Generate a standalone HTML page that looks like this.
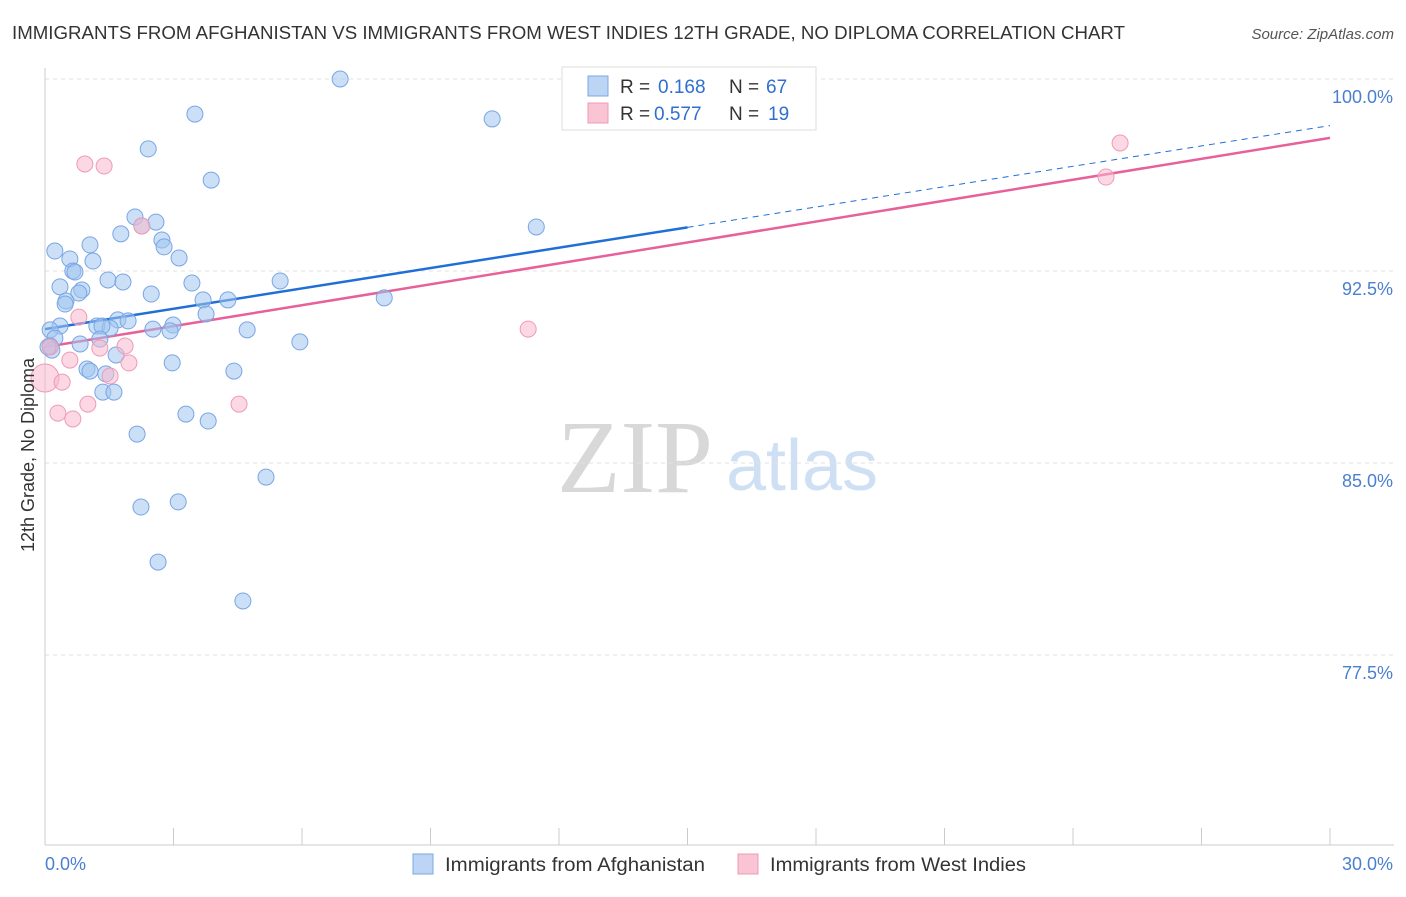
<!DOCTYPE html>
<html><head><meta charset="utf-8"><style>
body{margin:0;background:#fff;font-family:"Liberation Sans",sans-serif;}
</style></head><body>
<svg id="chart" width="1406" height="892" xmlns="http://www.w3.org/2000/svg" style="font-family:'Liberation Sans',sans-serif">
<text x="12" y="39" font-size="18" fill="#333" textLength="1113" lengthAdjust="spacingAndGlyphs">IMMIGRANTS FROM AFGHANISTAN VS IMMIGRANTS FROM WEST INDIES 12TH GRADE, NO DIPLOMA CORRELATION CHART</text>
<text x="1394" y="39" font-size="15" fill="#555" text-anchor="end" font-style="italic">Source: ZipAtlas.com</text>
<g>
<text x="635" y="492" font-size="104" fill="#d8d8d8" text-anchor="middle" font-family="Liberation Serif,serif">ZIP</text>
<text x="802" y="490" font-size="72" fill="#cfe0f4" text-anchor="middle">atlas</text>
</g>
<g id="grid"></g>
<g id="axes"></g>
<g id="lines"></g>
<g id="points"></g>
<text transform="translate(34,455) rotate(-90)" font-size="18" fill="#333" text-anchor="middle">12th Grade, No Diploma</text>
<g>
<rect x="562" y="67" width="254" height="63" fill="#fff" stroke="#ddd"/>
<rect x="588" y="76" width="20" height="20" fill="#bcd5f5" stroke="#7aa8e6"/>
<rect x="588" y="103" width="20" height="20" fill="#f9c4d4" stroke="#f09ab6"/>
<text x="620" y="93" font-size="19" fill="#333">R =</text>
<text x="658" y="93" font-size="19" fill="#2f6fd0">0.168</text>
<text x="729" y="93" font-size="19" fill="#333">N =</text>
<text x="766" y="93" font-size="19" fill="#2f6fd0">67</text>
<text x="620" y="120" font-size="19" fill="#333">R =</text>
<text x="654" y="120" font-size="19" fill="#2f6fd0">0.577</text>
<text x="729" y="120" font-size="19" fill="#333">N =</text>
<text x="768" y="120" font-size="19" fill="#2f6fd0">19</text>
</g>
<g>
<rect x="413" y="854" width="20" height="20" fill="#bcd5f5" stroke="#7aa8e6"/>
<text x="445" y="871" font-size="19" fill="#333" textLength="260" lengthAdjust="spacingAndGlyphs">Immigrants from Afghanistan</text>
<rect x="738" y="854" width="20" height="20" fill="#f9c4d4" stroke="#f09ab6"/>
<text x="770" y="871" font-size="19" fill="#333" textLength="256" lengthAdjust="spacingAndGlyphs">Immigrants from West Indies</text>
</g>
</svg>
<script>
const blueX=[6.89,3.50,10.44,2.41,3.88,2.10,2.59,2.26,1.77,11.47,2.73,2.78,0.23,1.05,1.12,3.13,0.58,0.65,0.70,1.47,1.82,5.49,3.43,0.35,0.86,0.79,0.49,0.47,2.48,3.69,4.27,7.92,3.76,1.70,1.94,0.35,1.21,1.52,1.33,2.52,2.99,2.92,4.72,0.12,0.23,0.82,1.28,5.95,0.12,0.16,1.66,2.97,0.98,1.05,1.42,4.41,1.35,1.61,3.29,3.81,2.15,5.16,3.11,2.24,2.64,4.62,0.07];
const blueY=[100,98.63,98.44,97.27,96.05,94.61,94.41,94.26,93.95,94.22,93.71,93.44,93.28,93.52,92.89,93.01,92.97,92.50,92.46,92.15,92.07,92.11,92.03,91.88,91.76,91.64,91.33,91.21,91.60,91.37,91.37,91.45,90.82,90.59,90.55,90.35,90.35,90.27,90.35,90.23,90.39,90.16,90.20,90.20,89.88,89.65,89.84,89.73,89.57,89.41,89.22,88.91,88.67,88.59,88.48,88.59,87.77,87.77,86.91,86.64,86.13,84.45,83.48,83.28,81.13,79.61,89.53];
const pinkX=[25.10,24.77,0.93,1.38,2.26,0.79,11.28,1.87,1.28,0.12,0.58,1.96,0,0.40,1.52,1.00,4.53,0.30,0.65];
const pinkY=[97.50,96.17,96.68,96.60,94.26,90.70,90.23,89.57,89.49,89.53,89.02,88.91,88.32,88.16,88.40,87.30,87.30,86.95,86.72];
const pinkR=[8,8,8,8,8,8,8,8,8,8,8,8,14,8,8,8,8,8,8];
const blueLine=[90.23,0.265];
const pinkLine=[89.53,0.2723];
const yTicks=[100,92.5,85,77.5];
const xTickLabels=["0.0%","30.0%"];
const NS="http://www.w3.org/2000/svg";
const X0=45,X1=1330,Y100=79,PPU=25.6,YB=845;
const sx=v=>X0+(v/30)*(X1-X0);
const sy=v=>Y100+(100-v)*PPU;
function mk(t,a,p){const e=document.createElementNS(NS,t);for(const k in a)e.setAttribute(k,a[k]);document.getElementById(p).appendChild(e);return e;}
yTicks.forEach(v=>{
 const l=mk('line',{x1:X0,x2:1394,y1:sy(v),y2:sy(v),stroke:'#e2e2e2','stroke-dasharray':'4,4'},'grid');
 
 
 const t=mk('text',{x:1393,y:sy(v)+24,'font-size':18,fill:'#4a7fd0','text-anchor':'end'},'axes');
 t.textContent=v.toFixed(1)+'%';
 
 
});
const ax=mk('line',{x1:X0,x2:X0,y1:68,y2:YB,stroke:'#ccc'},'axes');


const bx=mk('line',{x1:X0,x2:1394,y1:YB,y2:YB,stroke:'#ccc'},'axes');


for(let i=0;i<=10;i++){
 const t=mk('line',{x1:sx(i*3),x2:sx(i*3),y1:828,y2:YB,stroke:'#ccc'},'axes');
 
 
}
[[0,'start',xTickLabels[0]],[30,'end',xTickLabels[1]]].forEach(([v,a,s],i)=>{
 const t=mk('text',{x:i?1393:X0,y:870,'font-size':18,fill:'#4a7fd0','text-anchor':a},'axes');
 t.textContent=s;
 
 
});
blueX.forEach((x,i)=>{
 const c=mk('circle',{cx:sx(x),cy:sy(blueY[i]),r:8,fill:'rgba(160,196,240,0.55)',stroke:'#78a6e4','stroke-width':1},'points');
 
 
});
pinkX.forEach((x,i)=>{
 const c=mk('circle',{cx:sx(x),cy:sy(pinkY[i]),r:pinkR[i],fill:'rgba(248,184,204,0.55)',stroke:'#f09ab6','stroke-width':1},'points');
 
 
});
const f=(L,x)=>L[0]+L[1]*x;
let l1=mk('line',{x1:sx(0),y1:sy(f(blueLine,0)),x2:sx(15),y2:sy(f(blueLine,15)),stroke:'#1f6fd6','stroke-width':2.5},'lines');


let l2=mk('line',{x1:sx(15),y1:sy(f(blueLine,15)),x2:sx(30),y2:sy(f(blueLine,30)),stroke:'#1f6fd6','stroke-width':1,'stroke-dasharray':'6,5'},'lines');


let l3=mk('line',{x1:sx(0),y1:sy(f(pinkLine,0)),x2:sx(30),y2:sy(f(pinkLine,30)),stroke:'#e8609a','stroke-width':2.5},'lines');


</script>
</body></html>
